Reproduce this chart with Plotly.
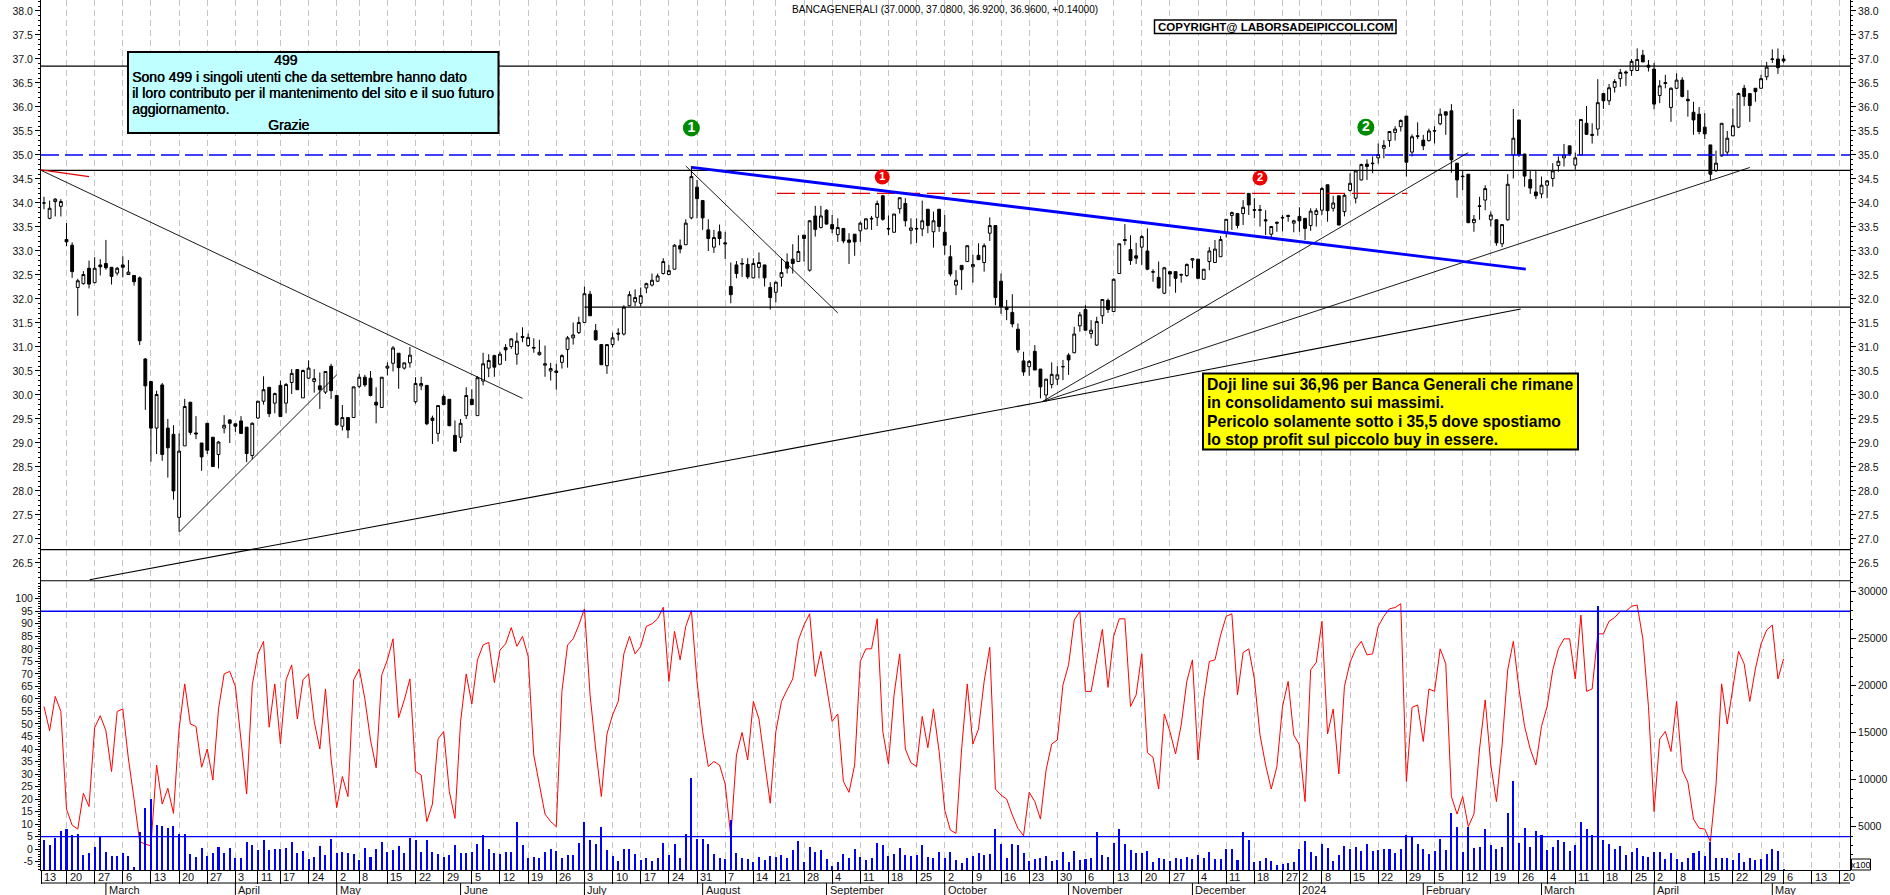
import plotly.graph_objects as go

# ---------------- data ----------------
open_ = [34.0,33.68,34.03,33.93,33.24,33.12,32.24,32.32,32.64,32.34,
32.71,32.74,32.66,32.54,32.71,32.51,32.49,32.44,30.75,30.28,
29.31,30.21,29.31,29.18,27.45,28.94,29.85,29.21,29.0,29.41,
29.12,28.76,29.31,29.48,29.4,29.46,29.33,28.74,29.52,29.87,
30.16,29.83,30.2,29.83,30.26,30.53,29.94,30.35,30.28,30.19,
30.06,30.6,29.99,29.35,29.53,29.53,30.18,30.37,30.35,29.85,
29.74,30.56,30.66,30.87,30.56,30.67,29.86,30.19,30.2,29.52,
29.2,29.97,29.91,29.16,29.12,29.57,29.91,29.57,30.29,30.56,
30.82,30.64,30.99,31.01,30.85,31.22,31.03,30.99,30.84,30.62,
30.5,30.5,30.68,30.95,31.19,31.3,31.51,32.1,31.34,31.05,
30.61,31.05,31.29,31.27,31.86,31.94,31.91,32.23,32.29,32.37,
32.53,32.51,32.62,33.11,33.13,33.69,34.33,34.05,33.44,33.08,
33.4,33.17,32.26,32.71,32.74,32.72,32.44,32.66,32.71,32.24,
32.14,32.45,32.77,32.83,32.78,33.33,32.6,33.73,33.49,33.85,
33.55,33.34,33.47,33.23,33.35,33.42,33.46,33.68,33.7,34.15,
33.47,33.39,33.88,33.99,33.43,33.47,33.46,33.87,33.4,33.87,
33.39,32.88,32.29,32.7,32.78,32.67,32.91,32.76,33.37,33.53,
32.37,31.82,31.72,31.37,30.71,30.59,30.91,30.54,30.0,30.22,
30.33,30.59,30.83,30.88,31.44,31.78,31.28,31.04,31.65,31.97,
31.74,32.53,33.24,33.03,32.9,33.08,33.0,32.57,32.45,32.12,
32.57,32.57,32.51,32.49,32.81,32.83,32.41,32.78,32.76,32.88,
33.38,33.74,33.78,33.78,34.2,33.86,33.86,33.65,33.35,33.6,
33.7,33.74,33.58,33.72,33.68,33.53,33.76,33.85,34.38,33.89,
34.15,33.82,34.26,34.1,34.48,34.81,34.83,34.94,35.14,35.3,
35.47,35.59,35.81,35.06,35.4,35.31,35.3,35.51,35.65,35.9,
35.92,34.83,34.56,34.6,33.59,33.94,34.06,33.65,33.65,33.15,
33.65,35.0,35.73,35.02,34.49,34.23,34.19,34.37,34.51,34.78,
34.94,35.19,34.79,35.0,35.66,35.43,35.54,36.28,36.13,36.41,
36.59,36.73,36.76,36.76,37.08,36.87,36.79,36.24,36.51,35.99,
36.39,36.56,36.16,35.89,35.85,35.58,35.21,34.67,34.98,35.06,
35.4,35.58,36.39,36.28,36.39,36.39,36.63,36.99,37.0,37.0]

high = [34.13,34.05,34.1,34.08,33.58,33.18,32.42,32.58,32.8,32.87,
32.83,33.23,32.66,32.67,32.89,32.81,32.5,32.47,30.77,30.28,
30.09,30.25,29.5,29.37,29.2,29.92,29.85,29.56,29.0,29.41,
29.12,29.04,29.58,29.5,29.4,29.56,29.33,29.43,29.87,30.39,
30.16,30.05,30.3,30.25,30.54,30.53,30.53,30.72,30.54,30.47,
30.49,30.65,29.99,29.79,29.53,30.17,30.44,30.42,30.5,30.16,
30.37,30.68,31.02,30.87,30.67,31.0,30.37,30.38,30.2,29.57,
29.78,30.01,29.91,29.47,29.5,30.16,30.12,30.39,30.88,30.85,
30.84,30.9,31.06,31.18,31.3,31.41,31.28,31.18,31.15,31.03,
30.67,30.65,30.85,31.23,31.51,31.63,32.26,32.17,31.48,31.05,
31.05,31.3,31.39,31.87,32.16,32.2,32.24,32.34,32.53,32.53,
32.85,32.71,33.14,33.24,33.66,34.77,34.48,34.05,33.66,33.44,
33.55,33.4,32.76,32.79,32.85,32.85,32.85,32.97,32.71,32.35,
32.36,32.85,32.95,33.14,33.33,33.33,33.64,33.94,33.94,33.87,
33.75,33.68,33.47,33.37,33.35,33.61,33.68,33.73,34.05,34.17,
33.74,33.77,34.11,34.1,33.68,33.68,34.05,33.87,33.82,33.87,
33.75,33.12,32.6,32.7,33.12,32.92,33.16,33.16,33.7,33.53,
32.53,31.98,32.1,31.49,30.9,30.73,31.04,30.54,30.33,30.68,
30.6,30.73,30.87,31.42,31.73,31.87,31.56,31.63,31.99,32.01,
32.43,33.15,33.56,33.33,33.17,33.33,33.47,32.62,32.78,32.67,
32.57,32.57,32.53,32.74,32.85,32.83,32.62,33.08,33.23,33.31,
33.66,33.82,33.78,34.06,34.2,34.1,33.96,33.85,33.52,33.61,
33.75,33.76,33.65,33.91,33.68,33.89,33.89,34.34,34.38,34.15,
34.15,34.2,34.62,34.69,34.82,34.91,34.97,35.24,35.31,35.49,
35.6,35.74,35.81,35.43,35.68,35.42,35.55,35.6,35.97,35.9,
36.06,34.83,34.69,34.6,33.75,34.13,34.37,33.82,33.66,33.56,
34.6,35.96,35.73,35.02,34.69,34.69,34.55,34.48,34.83,34.97,
35.23,35.19,35.05,35.74,36.02,35.66,36.58,36.28,36.48,36.58,
36.79,36.76,37.0,37.22,37.19,36.98,36.92,36.56,36.67,36.41,
36.7,36.62,36.35,36.11,36.0,35.87,35.21,35.09,35.66,35.5,
35.97,36.3,36.46,36.28,36.39,36.67,36.94,37.2,37.22,37.08]

low = [33.87,33.66,33.72,33.72,33.1,32.44,31.65,32.3,32.22,32.33,
32.49,32.61,32.3,32.49,32.45,32.5,32.28,31.04,29.69,28.61,
28.77,28.63,28.28,27.82,27.15,28.94,29.17,29.08,28.42,28.77,
28.51,28.47,29.2,29.0,29.23,29.19,28.6,28.66,29.5,29.8,
29.54,29.62,29.55,29.62,30.02,30.11,29.94,30.33,30.05,29.71,
30.02,29.92,29.36,29.26,29.1,29.53,30.14,30.17,29.97,29.41,
29.73,30.41,30.49,30.13,30.53,30.57,29.82,30.1,29.37,28.98,
29.03,29.8,29.35,28.82,29.0,29.5,29.8,29.57,30.2,30.37,
30.38,30.63,30.71,30.96,30.63,31.1,31.0,30.88,30.82,30.38,
30.3,30.11,30.55,30.57,31.05,31.27,31.51,31.65,31.13,30.63,
30.44,30.99,31.13,31.24,31.85,31.85,31.84,32.12,32.26,32.36,
32.51,32.5,32.62,32.95,33.13,33.66,33.68,33.44,33.0,32.96,
33.12,32.83,31.91,32.43,32.46,32.42,32.43,32.43,32.26,31.78,
31.93,32.26,32.53,32.53,32.78,32.78,32.57,33.3,33.47,33.55,
33.37,33.19,33.16,32.73,32.9,33.19,33.46,33.44,33.52,33.63,
33.33,33.38,33.78,33.51,33.14,33.17,33.31,33.37,33.07,33.4,
32.92,32.47,32.08,32.19,32.78,32.34,32.81,32.57,33.21,31.87,
31.69,31.56,31.41,30.88,30.4,30.4,30.52,29.93,29.86,30.14,
30.21,30.31,30.42,30.87,31.32,31.35,31.18,31.02,31.48,31.71,
31.73,32.53,33.12,32.71,32.73,32.71,32.6,32.36,32.22,32.1,
32.26,32.13,32.34,32.46,32.64,32.41,32.4,32.6,32.76,32.88,
33.28,33.44,33.47,33.54,33.75,33.68,33.51,33.33,33.28,33.4,
33.41,33.61,33.39,33.4,33.23,33.42,33.51,33.75,33.61,33.82,
33.54,33.72,34.24,33.99,34.47,34.48,34.62,34.82,34.93,35.17,
35.3,35.49,34.55,34.97,35.33,35.1,35.28,35.24,35.62,35.42,
34.63,34.11,34.27,33.58,33.4,33.65,33.85,33.51,33.11,33.08,
33.63,34.51,34.96,34.34,34.19,34.08,34.1,34.1,34.34,34.65,
34.76,34.99,34.69,35.0,35.42,35.24,35.4,35.96,36.04,36.3,
36.42,36.44,36.65,36.76,36.93,36.74,35.95,36.08,36.39,35.69,
36.37,36.2,35.8,35.42,35.43,35.33,34.48,34.65,34.97,34.99,
35.39,35.56,36.02,35.69,36.11,36.38,36.56,36.92,36.69,36.92]

close = [34.0,33.89,34.08,34.03,33.19,32.57,32.38,32.51,32.31,32.64,
32.67,32.65,32.47,32.64,32.66,32.56,32.36,31.13,30.19,29.31,
30.01,28.76,28.9,28.0,28.83,29.76,29.22,29.19,28.71,28.85,
28.51,29.02,29.37,29.41,29.35,29.2,28.78,29.41,29.87,30.11,
29.61,30.03,29.55,30.22,30.45,30.11,30.51,30.56,30.34,30.11,
30.49,30.09,29.38,29.53,29.27,30.17,30.37,30.21,29.99,29.79,
30.37,30.6,30.98,30.57,30.67,30.83,30.24,30.24,29.4,29.47,
29.78,29.8,29.36,28.83,29.41,29.99,29.8,30.36,30.65,30.72,
30.58,30.85,30.94,31.17,31.12,31.2,31.2,30.98,30.89,30.65,
30.55,30.47,30.82,31.19,31.25,31.51,32.11,31.65,31.15,30.63,
31.05,31.19,31.27,31.83,32.09,32.03,32.07,32.32,32.39,32.48,
32.78,32.59,33.12,33.04,33.58,34.55,34.09,33.69,33.26,33.28,
33.26,33.15,32.09,32.53,32.73,32.46,32.74,32.76,32.44,32.03,
32.35,32.55,32.64,32.74,32.99,33.26,33.63,33.45,33.73,33.56,
33.46,33.49,33.21,33.18,33.19,33.58,33.67,33.67,33.99,33.66,
33.46,33.77,34.11,33.63,33.48,33.46,33.63,33.53,33.63,33.51,
33.12,32.52,32.39,32.61,33.11,32.72,32.82,33.11,33.53,32.03,
31.84,31.78,31.48,30.94,30.48,30.7,30.52,30.17,30.33,30.43,
30.42,30.59,30.73,31.27,31.67,31.35,31.35,31.53,31.99,31.78,
32.41,33.15,33.22,32.8,32.85,33.3,32.62,32.56,32.23,32.65,
32.52,32.43,32.5,32.72,32.84,32.43,32.62,33.0,33.04,33.24,
33.66,33.8,33.53,33.91,33.96,33.85,33.85,33.63,33.51,33.58,
33.69,33.72,33.63,33.63,33.47,33.83,33.84,34.3,33.84,34.0,
33.54,34.16,34.41,34.67,34.8,34.76,34.82,35.01,35.2,35.49,
35.54,35.72,34.85,35.38,35.39,35.19,35.5,35.5,35.85,35.83,
34.9,34.48,34.55,33.59,33.66,33.93,34.3,33.75,33.17,33.55,
34.39,35.35,35.0,34.56,34.31,34.15,34.37,34.46,34.67,34.87,
35.0,35.02,34.94,35.74,35.43,35.41,36.09,36.13,36.4,36.53,
36.72,36.71,36.95,36.99,36.94,36.83,36.06,36.44,36.49,36.39,
36.56,36.22,36.13,35.73,35.49,35.44,34.6,34.83,35.66,35.35,
35.61,36.28,36.22,36.03,36.32,36.59,36.83,37.0,36.82,36.96]

oscillator = [57,47.3,61,55,16,9.6,8,22.3,17,48.5,
53.3,47.3,31,55,56,36,20,3,2,1.3,
33.6,18,24.3,14.3,48,66,50,49,32.7,40,
27.6,56,70,71,65,43,22,65.6,78,83,
48.7,66,42,67.6,73.6,52,67.6,70,51,40,
64,36,16.6,29,21,67.6,72,60,43.6,32.5,
69.6,75.6,84,52.5,59.6,68,31,29.6,11,18,
44,47,23,12.3,51,70,58,75.6,81.5,82.6,
66.5,79.5,82,88.5,81,85,77,37.6,26,14,
11,9,63,81.5,84,89.5,96,61.6,40,21,
46,53.6,59,78,85,78,81,89,90,92,
96.6,67,87,75.6,89,95.3,67,47,33,35,
33.6,26,5,37.6,46.6,35.6,59,52,35,18.3,
47,59,63.6,68,83.5,89.5,94,69,79,65.6,
51,54,27,22.7,33.6,75,80,80,92,47,
34,61.6,78,40,34.5,33,53,40.5,56,39,
15.6,7.6,6.3,40,66,42,48,67,80.6,24,
21.6,20,13.6,8.3,5.4,22.7,19,12,31.6,42,
43.6,65.6,73.6,91.5,95,63,63,75.6,87.8,64.6,
85,92,92,57,61.6,78,38.5,36.7,24,54,
47,38,49.6,67,75.6,35.6,60,75,75.6,85.5,
93,94,61.6,78.5,80,68,45.6,33.6,24,33,
57,67,45.6,41.6,19,71.6,74.6,91,46,56,
30,65,74.6,80,83,77.6,78,89,93,96,
96.5,98,27,56.6,57.6,43,64,63,80,74,
21,14,21,9,14,40,59.6,33.6,19,41.6,
71.6,83,64,49,40,33.6,49,57,71.6,80,
84,84,68,93.5,63,64,86,86,91,92.5,
95,95,97,97.5,84,57,15,44,47,39,
59,31.6,26.7,12,8.4,8,3,25.6,66,50,
64,79,74,59,72,82,87.5,89.5,68,76]

volume = [3555,3060,3840,4550,4760,4120,4190,2000,2170,2810,
3870,2350,1890,1850,2170,1890,680,4480,6960,7950,
5190,5080,4830,5080,4230,4230,2060,1820,2700,1890,
2240,2880,2170,2700,1640,1640,3420,3060,2490,3555,
2490,2630,2630,2780,3420,2210,2460,1530,1750,2920,
2000,3660,2240,2280,2170,2060,1460,2700,1780,2600,
3420,2280,2490,3000,2210,3770,3590,2280,3555,2350,
2060,1750,2000,3060,2210,2170,2280,3130,4090,2600,
2210,2140,2280,2320,5500,3020,1640,1780,1640,2280,
2630,2420,1640,1960,1960,3240,5500,3590,3170,4970,
2490,1850,1360,2600,2600,2060,1460,1640,1360,1640,
3240,2000,3170,1640,4190,10150,3700,3700,3130,2070,
1640,1570,5720,2210,1640,1570,1220,1750,1460,1890,
1780,1960,1640,2530,3450,1220,2850,2310,2490,1530,
860,1250,2070,1680,2630,1780,1460,1640,3240,3020,
1890,2070,2700,2000,1890,1960,3020,1780,1640,2310,
1710,2310,1460,1180,1680,1850,2210,2000,2070,4730,
3130,1640,3130,3020,2170,1360,1530,1640,1850,1360,
1460,2280,1220,2420,1460,1530,1680,4440,2000,1780,
3310,4760,3130,2490,2170,2240,2420,1220,1640,1530,
1360,1680,1570,1780,1570,1960,1640,2310,1570,1570,
2630,2630,1460,4410,3590,1250,1360,1640,1320,900,
1000,1110,1220,2630,3520,2310,1890,3130,2740,1360,
1960,3000,2630,2850,2420,3130,2380,2530,2600,2600,
2170,2600,4120,3940,3130,2630,2070,2460,3660,2490,
6460,4940,2350,5010,2700,2850,4730,3020,2630,2880,
6460,9870,3270,4830,2880,4550,4120,2530,2810,3590,
3340,2460,3020,5470,4760,4120,28480,3590,3130,2630,
2920,2000,2350,2740,1890,1780,2350,2310,1570,2170,
1530,1220,1640,2210,2420,1920,3410,1640,1640,1710,
1460,2170,1250,1640,1460,1570,2070,2600,2420,500]

week_labels = ["13","20","27","6","13","20","27","3","11","17","24","2","8","15","22","29",
               "5","12","19","26","3","10","17","24","31","7","14","21","28","4","11","18","25",
               "2","9","16","23","30","6","13","20","27","4","11","18","27","2","8","15","22","29",
               "5","12","19","26","4","11","18","25","2","8","15","22","29","6","13","20"]
week_bars = [-0.5,4,9,14,19,24,29,34,38,42,47,52,56,61,66,71,76,81,86,91,96,101,106,111,116,121,126,
             130,135,140,145,150,155,160,165,170,175,180,185,190,195,200,205,210,215,220,223,227,
             232,237,242,247,252,257,262,267,272,277,282,286,290,295,300,305,309,314,319]
month_labels = ["March","April","May","June","July","August","September","October","November",
                "December","2024","February","March","April","May"]
month_bars = [11,34,52,74,96,117,139,160,182,204,223,245,266,286,307]

price_levels = [36.85, 34.68, 26.78, 26.13]
support_level = 31.83
resistance_blue = 35.0
resistance_red = 34.2
osc_levels = [95, 5]

# (bar position pair, price pair) for each hand-drawn trend line
trend_thin = [
    ([-0.5, 85], [34.68, 29.93]),
    ([24.1, 52], [27.15, 30.42]),
    ([114, 141], [34.77, 31.71]),
    ([177.3, 253], [29.86, 35.05]),
    ([177.3, 303], [29.86, 34.74]),
]
trend_medium = [
    ([8.1, 177.3], [26.15, 29.86]),
    ([177.3, 262.3], [29.86, 31.79]),
]
trend_blue = ([115.1, 263.2], [34.74, 32.62])
trend_red = ([-0.5, 8], [34.69, 34.55])
red_segment = [130.2, 242.2]
support_start = 96

green_marks = (["1", "2"], [115, 234.8], [35.56, 35.58])
red_marks = (["1", "2"], [148.9, 216], [34.54, 34.52])

title_text = "BANCAGENERALI (37.0000, 37.0800, 36.9200, 36.9600, +0.14000)"
copyright_text = "COPYRIGHT@ LABORSADEIPICCOLI.COM"
cyan_lines = ["Sono 499 i singoli utenti che da settembre hanno dato",
              "il loro contributo per il mantenimento del sito e il suo futuro",
              "aggiornamento."]
yellow_lines = ["Doji line sui 36,96 per Banca Generali che rimane",
                "in consolidamento sui massimi.",
                "Pericolo solamente sotto i 35,5 dove spostiamo",
                "lo stop profit sul piccolo buy in essere."]

# ---------------- layout helpers ----------------
W, H = 1890, 895
px = lambda x: x / W
py = lambda y: 1 - y / H
FONT = "Liberation Sans"
bars = list(range(len(close)))
x_lo, x_hi = -0.53, 320.8

fig = go.Figure()

fig.add_trace(go.Candlestick(x=bars, open=open_, high=high, low=low, close=close,
    increasing=dict(line=dict(color="black", width=1), fillcolor="white"),
    decreasing=dict(line=dict(color="black", width=1), fillcolor="black"),
    whiskerwidth=0, hoverinfo="skip", xaxis="x", yaxis="y", showlegend=False))

def line(xs, ys, color="black", width=1, dash=None, yaxis="y4"):
    fig.add_trace(go.Scatter(x=xs, y=ys, mode="lines", yaxis=yaxis, xaxis="x", showlegend=False,
                             hoverinfo="skip", line=dict(color=color, width=width, dash=dash)))

for lv in price_levels:
    line([x_lo, x_hi], [lv, lv], width=1.2)
line([support_start, x_hi], [support_level, support_level], width=1.2)
line([x_lo, x_hi], [resistance_blue] * 2, color="#0000FF", width=1.4, dash="18px,6px")
line(red_segment, [resistance_red] * 2, color="#E00000", width=1.2, dash="18px,7px")
for xs, ys in trend_thin:
    line(xs, ys, width=0.9)
for xs, ys in trend_medium:
    line(xs, ys, width=1.1)
line(*trend_blue, color="#0000FF", width=2.8)
line(*trend_red, color="#E00000", width=1.1)

for (texts, xs, ys), col, size, digit in ((green_marks, "#008A00", 17, 14), (red_marks, "#F00000", 15, 11)):
    fig.add_trace(go.Scatter(x=xs, y=ys, mode="markers+text", text=[f"<b>{t}</b>" for t in texts],
        yaxis="y4", xaxis="x", showlegend=False, hoverinfo="skip", textposition="middle center",
        textfont=dict(family=FONT, size=digit, color="white"),
        marker=dict(symbol="circle", size=size, color=col, line=dict(width=0))))

fig.add_trace(go.Bar(x=bars, y=volume, width=0.36, marker=dict(color="#0000FF", line=dict(width=0)),
                     yaxis="y3", xaxis="x", showlegend=False, hoverinfo="skip", base=0))
line(bars, oscillator, color="#FF0000", width=1, yaxis="y2")
for lv in osc_levels:
    line([x_lo, x_hi], [lv, lv], color="#0000FF", width=1.4, yaxis="y2")

tick_font = dict(family=FONT, size=10.5, color="#111111")
price_ticks = [26.5 + 0.5 * k for k in range(24)]
common_y = dict(showline=True, linecolor="black", linewidth=1, ticks="outside", ticklen=5,
                tickcolor="black", showgrid=False, zeroline=False, tickfont=tick_font, fixedrange=True)
y_price = dict(range=[26.104, 38.229], tickvals=price_ticks, ticktext=[f"{v:.1f}" for v in price_ticks],
               minor=dict(ticks="outside", ticklen=2, tickcolor="black", dtick=0.1, tick0=26),
               domain=[py(582), 1], **common_y)
osc_ticks = list(range(-5, 101, 5))
vol_ticks = list(range(5000, 30001, 5000))

fig.update_layout(
    width=W, height=H, margin=dict(l=0, r=0, t=0, b=0, pad=0), autosize=False,
    paper_bgcolor="white", plot_bgcolor="white", showlegend=False, boxgap=0.28, bargap=0,
    font=dict(family=FONT, color="black"),
    xaxis=dict(domain=[px(41), px(1850)], range=[x_lo, x_hi], tickmode="array",
               tickvals=week_bars, ticktext=[""] * len(week_bars), ticks="outside", ticklen=13,
               tickcolor="black", showgrid=True, gridcolor="#C4C4C4", griddash="6px,4px", gridwidth=1,
               showline=True, linecolor="black", zeroline=False, anchor="y2",
               rangeslider=dict(visible=False), fixedrange=True),
    yaxis=dict(anchor="x", side="left", **y_price),
    yaxis4=dict(anchor="x", side="right", overlaying="y", **y_price),
    yaxis2=dict(anchor="x", side="left", range=[-8.33, 106.7], domain=[py(870), py(582)],
                tickvals=osc_ticks, ticktext=[str(v) for v in osc_ticks],
                minor=dict(ticks="outside", ticklen=2, tickcolor="black", dtick=1), **common_y),
    yaxis3=dict(anchor="x", side="right", overlaying="y2", range=[398, 31036],
                tickvals=vol_ticks, ticktext=[str(v) for v in vol_ticks],
                minor=dict(ticks="outside", ticklen=2, tickcolor="black", dtick=1000), **common_y),
)

def note(x, y, text, size, bold=False, anchor="left", color="black", shadow=None):
    font = dict(family=FONT, size=size, color=color)
    if shadow:
        font["shadow"] = shadow
    fig.add_annotation(x=px(x), y=py(y), xref="paper", yref="paper", text=f"<b>{text}</b>" if bold else text,
                       showarrow=False, xanchor=anchor, yanchor="middle", borderpad=0, font=font)

def rect(x0, y0, x1, y1, fill, width):
    fig.add_shape(type="rect", xref="paper", yref="paper", x0=px(x0), x1=px(x1), y0=py(y0), y1=py(y1),
                  fillcolor=fill, line=dict(color="black", width=width), layer="above")

# calendar rows under the oscillator
fig.add_shape(type="line", xref="paper", yref="paper", x0=px(41), x1=px(1850), y0=py(883), y1=py(883),
              line=dict(color="black", width=1))
for lab, pos in zip(week_labels, week_bars):
    fig.add_annotation(x=pos, y=py(877), xref="x", yref="paper", text=lab, showarrow=False, xanchor="left",
                       yanchor="middle", xshift=1, font=dict(family=FONT, size=11, color="#111111"))
for lab, pos in zip(month_labels, month_bars):
    fig.add_shape(type="line", xref="x", yref="paper", x0=pos, x1=pos, y0=py(883), y1=py(895),
                  line=dict(color="black", width=1))
    fig.add_annotation(x=pos, y=py(890), xref="x", yref="paper", text=lab, showarrow=False, xanchor="left",
                       yanchor="middle", xshift=1, font=dict(family=FONT, size=11, color="#111111"))

# boxes and notes
FAUX = "0.4px 0 0 #000"
note(945, 9, title_text, 10.1, anchor="center")
rect(1154.5, 20, 1396, 33.5, "white", 1.5)
note(1157, 27, copyright_text, 11.5, bold=True)
rect(128, 52, 498.5, 133, "#BFFFFF", 2)
note(286, 60, "499", 14, anchor="center", shadow=FAUX)
for y, txt in zip((76.5, 92.5, 109), cyan_lines):
    note(130.5, y, txt, 14, shadow=FAUX)
note(288, 125, "Grazie", 14, anchor="center", shadow=FAUX)
rect(1203, 373.5, 1578, 449.5, "#FFFF00", 2)
for y, txt in zip((384, 402.5, 421, 440), yellow_lines):
    note(1205.5, y, txt, 15.7, bold=True)
rect(1851.5, 859, 1870.5, 870, "white", 1)
note(1861, 864.5, "x100", 9, anchor="center")

fig.write_html("out.html", config=dict(displayModeBar=False),
               post_script="document.body.style.margin='0';document.body.style.overflow='hidden';")
